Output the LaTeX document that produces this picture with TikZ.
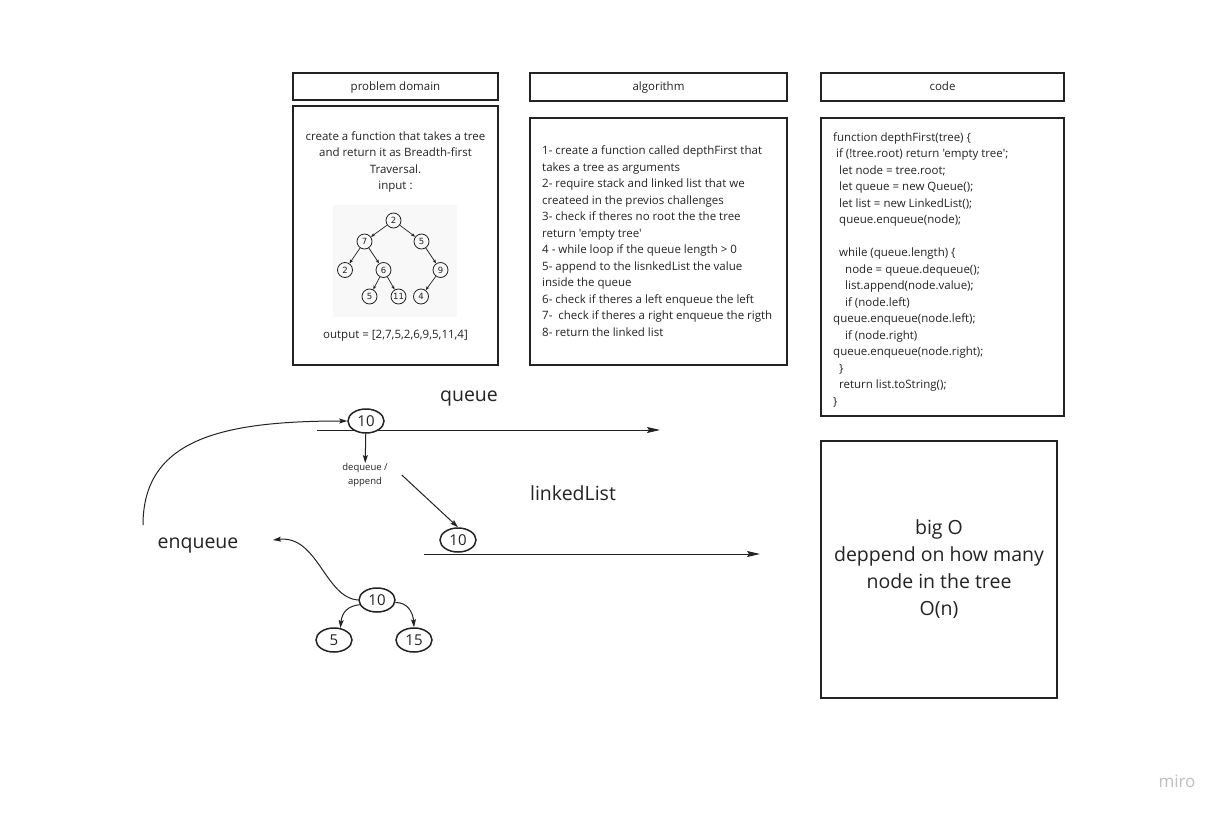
\documentclass[tikz,border=0pt]{standalone}
\usepackage{fontspec}
\setmainfont{Open Sans}[Ligatures=TeXOff]
\newfontfamily\djv{DejaVu Sans}
\usetikzlibrary{shapes.geometric,arrows.meta}
\definecolor{ink}{RGB}{35,35,35}
\definecolor{imgbg}{RGB}{248,248,248}
\begin{document}
\begin{tikzpicture}[x=1pt,y=-1pt,
  box/.style={draw=ink, line width=1.5pt, inner sep=0pt, text=ink, font=\fontsize{11.5}{14}\selectfont},
  txt/.style={inner sep=0pt, text=ink, font=\fontsize{11.5}{16.5}\selectfont},
  big/.style={inner sep=0pt, text=ink, font=\fontsize{19.5}{27}\selectfont},
  ell/.style={draw=ink, ellipse, line width=1.5pt, minimum width=36pt, minimum height=24pt, inner sep=0pt, text=ink, font=\fontsize{15}{15}\selectfont},
  tc/.style={draw=ink, circle, minimum size=15pt, inner sep=0pt, line width=0.8pt, text=ink, font=\djv\fontsize{8.5}{8.5}\selectfont},
  arr/.style={draw=ink, line width=1pt, -{Stealth[length=13pt,width=6pt,inset=2pt]}},
  sarr/.style={draw=ink, line width=1pt, -{Stealth[length=8pt,width=5pt,inset=1.5pt]}},
  tarr/.style={draw=ink, line width=0.7pt, -{Stealth[length=4pt,width=3pt,inset=1pt]}}
]
\fill[white] (0,0) rectangle (1224,816);
\useasboundingbox (0,0) rectangle (1224,816);

% headers
\node[box, minimum width=205pt, minimum height=27pt, text height=9pt, text depth=2pt] (hpd) at (395.5,86.5) {problem domain};
\node[box, minimum width=257pt, minimum height=28pt, text height=9pt, text depth=2pt] (halg) at (658.5,87) {algorithm};
\node[box, minimum width=243pt, minimum height=28pt, text height=9pt, text depth=2pt] (hcode) at (942.5,87) {code};

% bodies
\node[box, minimum width=205pt, minimum height=259pt] (bpd) at (395.5,235.5) {};
\node[box, minimum width=257pt, minimum height=247pt] (balg) at (658.5,241.5) {};
\node[box, minimum width=243pt, minimum height=298pt] (bcode) at (942.5,267) {};
\node[box, minimum width=236pt, minimum height=257pt, align=center, font=\fontsize{19.5}{27}\selectfont] (bigo) at (939,569.5)
  {big O\\deppend on how many\\node in the tree\\O(n)};

% problem domain text
\node[txt, align=center] (pdtext) at (395.5,162)
  {create a function that takes a tree\\and return it as Breadth-first\\Traversal.\\input :};
\node[txt] (pdout) at (395.5,336) {output = [2,7,5,2,6,9,5,11,4]};

% tree image
\node[fill=imgbg, minimum width=124pt, minimum height=112pt, inner sep=0pt] (img) at (395,261) {};
\node[tc] (t2)  at (393.5,220.5) {2};
\node[tc] (t7)  at (364.5,241.5) {7};
\node[tc] (t5)  at (421.5,241.5) {5};
\node[tc] (t2b) at (345,270) {2};
\node[tc] (t6)  at (383.5,270) {6};
\node[tc] (t9)  at (440.5,270) {9};
\node[tc] (t5b) at (369.5,296.5) {5};
\node[tc] (t11) at (398.5,296.5) {11};
\node[tc] (t4)  at (421,296.5) {4};
\draw[tarr] (t2) -- (t7);
\draw[tarr] (t2) -- (t5);
\draw[tarr] (t7) -- (t2b);
\draw[tarr] (t7) -- (t6);
\draw[tarr] (t5) -- (t9);
\draw[tarr] (t6) -- (t5b);
\draw[tarr] (t6) -- (t11);
\draw[tarr] (t9) -- (t4);

% algorithm text
\node[txt, align=left, anchor=west] (algtext) at (542,241)
  {1- create a function called depthFirst that\\
   takes a tree as arguments\\
   2- require stack and linked list that we\\
   createed in the previos challenges\\
   3- check if theres no root the the tree\\
   return 'empty tree'\\
   4 - while loop if the queue length > 0\\
   5- append to the lisnkedList the value\\
   inside the queue\\
   6- check if theres a left enqueue the left\\
   7-\ \ check if theres a right enqueue the rigth\\
   8- return the linked list};

% code text
\node[txt, align=left, anchor=west] (codetext) at (833,270)
  {function depthFirst(tree) \{\\
   \hspace*{3pt}if (!tree.root) return 'empty tree';\\
   \hspace*{6pt}let node = tree.root;\\
   \hspace*{6pt}let queue = new Queue();\\
   \hspace*{6pt}let list = new LinkedList();\\
   \hspace*{6pt}queue.enqueue(node);\\
   \mbox{}\\
   \hspace*{6pt}while (queue.length) \{\\
   \hspace*{12pt}node = queue.dequeue();\\
   \hspace*{12pt}list.append(node.value);\\
   \hspace*{12pt}if (node.left)\\
   queue.enqueue(node.left);\\
   \hspace*{12pt}if (node.right)\\
   queue.enqueue(node.right);\\
   \hspace*{6pt}\}\\
   \hspace*{6pt}return list.toString();\\
   \}};

% queue
\node[big] (lqueue) at (469,399) {queue};
\coordinate (qs) at (317,430);
\coordinate (qe) at (660,430);
\draw[arr] (qs) -- (qe);
\node[ell, fill=white] (q10) at (366,421) {10};
\node[inner sep=0pt, align=center, text=ink, font=\fontsize{9.5}{14}\selectfont] (deq) at (365,475) {dequeue /\\append};
\draw[sarr] (q10) -- (deq);

% linked list
\node[big] (llist) at (573,493) {linkedList};
\coordinate (ls) at (424,554);
\coordinate (le) at (760,554);
\draw[arr] (ls) -- (le);
\node[ell, fill=white] (l10) at (458,540) {10};
\draw[sarr] ([xshift=14pt,yshift=0pt]deq.east) -- (l10.north);

% enqueue
\node[big] (lenq) at (198,546) {enqueue};
\coordinate (cs) at (143,525);
\draw[sarr] (cs) .. controls (143,440) and (220,421) .. (q10.west);
\node[ell] (b10) at (377,600) {10};
\node[ell] (b5) at (334,640) {5};
\node[ell] (b15) at (414,640) {15};
\coordinate (ce) at (273,540);
\draw[sarr] (b10.west) .. controls (325,598) and (318,535) .. (ce);
\draw[sarr] (b10.195) .. controls (348,606) and (342,612) .. (b5.62);
\draw[sarr] (b10.352) .. controls (407,602) and (413,612) .. (b15.north);

% logo
\node[inner sep=0pt, text=black!25, font=\fontsize{17}{17}\selectfont] (logo) at (1177,781) {miro};
\end{tikzpicture}
\end{document}
